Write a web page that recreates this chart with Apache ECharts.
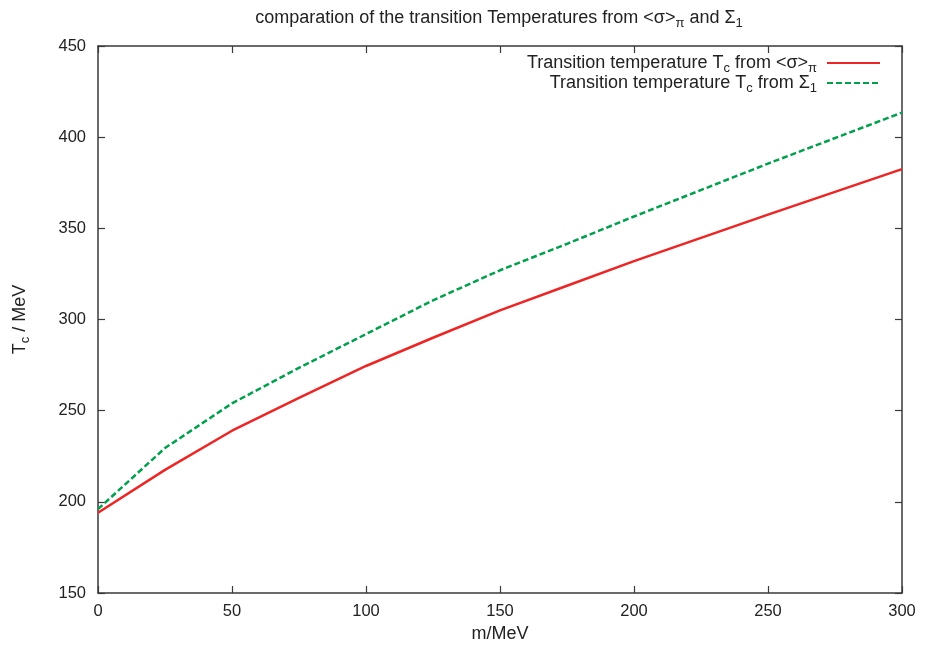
<!DOCTYPE html>
<html>
<head>
<meta charset="utf-8">
<script src="https://cdn.jsdelivr.net/npm/echarts@6/dist/echarts.min.js"></script>
<style>
  html, body { margin: 0; padding: 0; background: #fff; }
  #chart { width: 925px; height: 652px; }
</style>
</head>
<body>
<div id="chart"></div>
<script>
// Pion mass m (MeV) at which the transition temperature was computed
const massValues = [0, 25, 50, 75, 100, 125, 150, 175, 200, 250, 300];
// Tc from the chiral condensate <sigma>_pi
const tcFromSigma = [194, 217.5, 239, 257, 274.5, 290, 305, 318.5, 332, 357.5, 382.5];
// Tc from Sigma_1
const tcFromSigma1 = [196, 229.5, 254, 273.5, 292, 310.5, 327, 341.5, 356.5, 385.5, 413.5];

const xTicks = { min: 0, max: 300, interval: 50 };
const yTicks = { min: 150, max: 450, interval: 50 };

const nameSigma = 'Tc from <σ>π';
const nameSigma1 = 'Tc from Σ1';

const font = '"Liberation Sans", Arial, sans-serif';
const textColor = '#222';
const frameColor = '#3a3a3a';
const fontSize = 18;
const tickFontSize = 16.5;

// main text and lowered subscript tokens
const richText = {
  a: { fontFamily: font, fontSize: fontSize, fontWeight: 'normal', color: textColor, lineHeight: 20, verticalAlign: 'middle' },
  s: { fontFamily: font, fontSize: 13, fontWeight: 'normal', color: textColor, lineHeight: 13, verticalAlign: 'middle', padding: [11, 0, 0, 0] }
};

const chart = echarts.init(document.getElementById('chart'), null, { renderer: 'canvas' });

const makeAxis = (range, pos, showLabels, extra, labelMargin) => Object.assign({
  type: 'value',
  position: pos,
  min: range.min,
  max: range.max,
  interval: range.interval,
  axisLine: { show: true, onZero: false, lineStyle: { color: frameColor, width: 1.5 } },
  axisTick: { show: true, inside: true, length: 7, lineStyle: { color: frameColor, width: 1.2 } },
  axisLabel: { show: showLabels, fontFamily: font, fontSize: tickFontSize, color: textColor, margin: labelMargin || 10 },
  splitLine: { show: false }
}, extra || {});

const legendBase = {
  right: 44,
  padding: 0,
  align: 'right',
  itemWidth: 53, itemHeight: 12,
  itemStyle: { opacity: 0 },
  textStyle: { rich: richText, padding: [0, 5, 0, 0] },
  selectedMode: false
};

chart.setOption({
  animation: false,
  backgroundColor: '#ffffff',
  title: {
    text: '{a|comparation of the transition Temperatures from <σ>}{s|π}{a| and Σ}{s|1}',
    left: 494,
    textAlign: 'center',
    top: 3,
    textStyle: { rich: richText }
  },
  grid: { left: 97, right: 23, top: 46, bottom: 59, containLabel: false },
  legend: [
    Object.assign({}, legendBase, {
      data: [nameSigma],
      top: 51,
      formatter: () => '{a|Transition temperature T}{s|c}{a| from <σ>}{s|π}'
    }),
    Object.assign({}, legendBase, {
      data: [nameSigma1],
      top: 71,
      formatter: () => '{a|Transition temperature T}{s|c}{a| from Σ}{s|1}'
    })
  ],
  xAxis: [
    makeAxis(xTicks, 'bottom', true, {
      name: 'm/MeV', nameLocation: 'middle', nameGap: 31,
      nameTextStyle: { fontFamily: font, fontSize: fontSize, color: textColor }
    }, 10),
    makeAxis(xTicks, 'top', false)
  ],
  yAxis: [
    makeAxis(yTicks, 'left', true, {
      name: '{a|T}{s|c}{a| / MeV}', nameLocation: 'middle', nameGap: 68, nameRotate: 90,
      nameTextStyle: { rich: richText }
    }, 12),
    makeAxis(yTicks, 'right', false)
  ],
  series: [
    {
      name: nameSigma,
      type: 'line',
      data: massValues.map((m, i) => [m, tcFromSigma[i]]),
      showSymbol: false,
      symbol: 'none',
      lineStyle: { color: '#ee2525', width: 2.5 },
      itemStyle: { color: '#ee2525' }
    },
    {
      name: nameSigma1,
      type: 'line',
      data: massValues.map((m, i) => [m, tcFromSigma1[i]]),
      showSymbol: false,
      symbol: 'none',
      lineStyle: { color: '#00a04c', width: 2.5, type: [6, 3] },
      itemStyle: { color: '#00a04c' }
    }
  ]
});
</script>
</body>
</html>
